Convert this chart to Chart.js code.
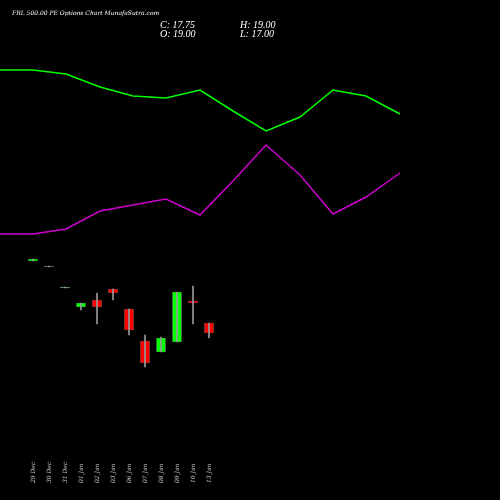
<!DOCTYPE html><html><head><style>html,body{margin:0;background:#000}</style>
<script src="https://cdn.jsdelivr.net/npm/chart.js"></script></head><body><canvas id="c" width="500" height="500"></canvas><script>
const lineX=[0,33,66,100,133,166,200,233,266,300,333,366,400];
const greenLine=[70,70,74,87,96,98,90,111,131,117,90,96,114];
const purpleLine=[234,234,229,211,205,199,215,181,145,175,214,197,173];
const dates=["29 Dec","30 Dec","31 Dec","01 Jan","02 Jan","03 Jan","06 Jan","07 Jan","08 Jan","09 Jan","10 Jan","13 Jan"];
const candleX=[33,49,65,81,97,113,129,145,161,177,193,209];
const opens=[261,267,288,307,300,289,309,341,352,342,301,323];
const closes=[259,266,287,303,307,293,330,363,338,292,303,333];
const highs=[259,266,287,303,293,289,309,335,337,292,286,323];
const lows=[261,267,288,310,324,300,335,367,352,342,324,338];
const colors=["#00ff00","#559955","#88ee88","#00ff00","#ff0000","#ff0000","#ff0000","#ff0000","#00ff00","#00ff00","#ff0000","#ff0000"];
const textPlugin={id:'t',afterDraw(ch){const c=ch.ctx,x=ch.scales.x;c.save();c.fillStyle='#fff';
c.font='italic 6px "DejaVu Serif"';c.fillText('FRL 500.00 PE Options Chart MunafaSutra.com',12,15);
c.font='italic 10px "Liberation Serif"';c.fillText('C: 17.75',160,28);c.fillText('H: 19.00',240,28);c.fillText('O: 19.00',160,37);c.fillText('L: 17.00',240,37);
c.font='italic 6px "DejaVu Serif"';c.fillStyle='#ccc';
dates.forEach((d,i)=>{c.save();c.translate(x.getPixelForValue(candleX[i])+2,483);c.rotate(-Math.PI/2);c.fillText(d,0,0);c.restore();});c.restore();}};
new Chart(document.getElementById('c'),{data:{datasets:[
{type:'line',data:lineX.map((x,i)=>({x,y:greenLine[i]})),borderColor:'#00ff00',borderWidth:1.5,pointRadius:0},
{type:'line',data:lineX.map((x,i)=>({x,y:purpleLine[i]})),borderColor:'#cc00cc',borderWidth:1.5,pointRadius:0},
{type:'bar',data:candleX.map((x,i)=>({x,y:[highs[i],lows[i]]})),backgroundColor:'#999',barThickness:1,grouped:false},
{type:'bar',data:candleX.map((x,i)=>({x,y:[opens[i],closes[i]+(opens[i]===closes[i]?1:0)]})),backgroundColor:colors,borderColor:'#666',borderWidth:0.5,barThickness:9,grouped:false,borderSkipped:false}
]},options:{animation:false,responsive:false,devicePixelRatio:1,layout:{padding:0},plugins:{legend:{display:false},tooltip:{enabled:false}},
scales:{x:{type:'linear',min:0,max:500,offset:false,display:false},y:{min:0,max:500,reverse:true,display:false}}},plugins:[textPlugin]});
</script></body></html>
